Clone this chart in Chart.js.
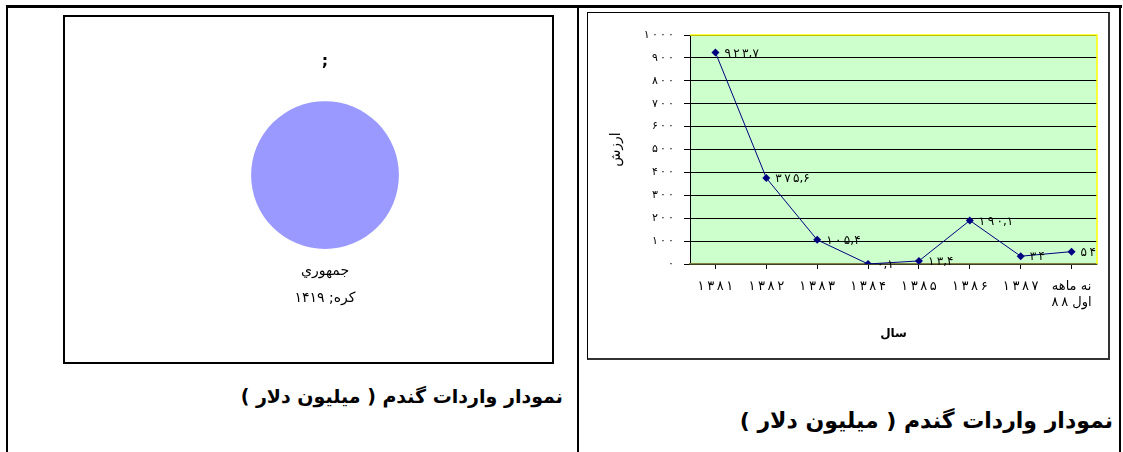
<!DOCTYPE html>
<html>
<head>
<meta charset="utf-8">
<script src="https://cdn.jsdelivr.net/npm/chart.js@4.4.0/dist/chart.umd.min.js"></script>
<style>
body { margin: 0; background: #fff; width: 1123px; height: 452px; overflow: hidden; position: relative; font-family: "DejaVu Sans", sans-serif; }
.ln { position: absolute; background: #000; }
.box { position: absolute; box-sizing: border-box; }
.cap { position: absolute; direction: rtl; font-weight: bold; white-space: nowrap; color: #000; }
canvas { position: absolute; }
</style>
</head>
<body>
<!-- table lines -->
<div class="ln" style="left:6px;top:5px;width:1116px;height:3px"></div>
<div class="ln" style="left:6px;top:5px;width:2px;height:447px"></div>
<div class="ln" style="left:577px;top:5px;width:2px;height:447px"></div>
<div class="ln" style="left:1119px;top:5px;width:2px;height:447px"></div>

<div class="box" style="left:63px;top:15px;width:491px;height:349px;border:2px solid #000"></div>
<canvas id="pie" style="left:65px;top:17px;width:487px;height:345px"></canvas>
<div class="cap" style="right:560px;top:385px;font-size:19px">نمودار واردات گندم ( میلیون دلار )</div>

<div class="box" style="left:587px;top:12px;width:523px;height:348px;border:1px solid #000;border-right:2px solid #333;border-bottom:2px solid #333"></div>
<canvas id="line" style="left:588px;top:13px;width:520px;height:345px"></canvas>
<div class="cap" style="right:10px;top:408px;font-size:22px">نمودار واردات گندم ( میلیون دلار )</div>

<script>
var years = ['۱۳۸۱', '۱۳۸۲', '۱۳۸۳', '۱۳۸۴', '۱۳۸۵', '۱۳۸۶', '۱۳۸۷', ['نه ماهه', 'اول ۸۸']];
var imports = [923.7, 375.6, 105.4, 0.1, 13.4, 190.1, 34, 54];
var pieLabels = ['جمهوري کره'];
var pieValues = [1419];

var faDigits = '۰۱۲۳۴۵۶۷۸۹';
function fa(v) {
    return String(v).replace(/[0-9]/g, function (d) { return faDigits[d]; }).replace('.', ',');
}
function spaced(s) {
    // wide digit look of the original
    return s.replace(/([۰-۹])(?=[۰-۹])/g, '$1\u2009');
}

var ctx = document.getElementById('line').getContext('2d');
var plotBg = {
    id: 'plotBg',
    beforeDraw: function (chart) {
        var a = chart.chartArea, c = chart.ctx;
        c.save();
        c.fillStyle = '#CCFFCC';
        c.fillRect(a.left, a.top, a.right - a.left, a.bottom - a.top);
        c.restore();
    },
    beforeDatasetsDraw: function (chart) {
        var a = chart.chartArea, c = chart.ctx;
        c.save();
        c.strokeStyle = '#FFFF00';
        c.lineWidth = 1.5;
        c.beginPath();
        c.moveTo(a.left, a.top);
        c.lineTo(a.right, a.top);
        c.lineTo(a.right, a.bottom);
        c.stroke();
        c.restore();
    }
};
var pointLabels = {
    id: 'pointLabels',
    afterDatasetsDraw: function (chart) {
        var c = chart.ctx;
        var meta = chart.getDatasetMeta(0);
        c.save();
        c.font = '12px "DejaVu Sans"';
        c.fillStyle = '#000';
        c.textAlign = 'left';
        c.textBaseline = 'middle';
        meta.data.forEach(function (pt, i) {
            c.fillText(spaced(fa(imports[i])), pt.x + 9, pt.y + 1);
        });
        c.restore();
    }
};

new Chart(ctx, {
    type: 'line',
    data: {
        labels: years,
        datasets: [{
            data: imports,
            borderColor: '#000080',
            borderWidth: 1,
            backgroundColor: '#000080',
            pointStyle: 'rectRot',
            pointRadius: 4,
            pointBorderWidth: 0,
            tension: 0,
        }],
    },
    options: {
        responsive: false,
        animation: false,
        events: [],
        layout: { padding: { top: 22, right: 11, left: 0, bottom: 0 } },
        plugins: {
            legend: { display: false },
            tooltip: { enabled: false },
        },
        scales: {
            y: {
                min: 0,
                max: 1000,
                afterFit: function (scale) { scale.width = 102; },
                ticks: {
                    stepSize: 100,
                    color: '#000',
                    padding: 10,
                    font: { family: 'DejaVu Sans', size: 11 },
                    callback: function (value) { return spaced(fa(value)); },
                },
                grid: { color: '#000', lineWidth: 1, tickLength: 6, drawTicks: true },
                border: { color: '#000', width: 1 },
                title: {
                    display: true,
                    text: 'ارزش',
                    color: '#000',
                    font: { family: 'DejaVu Sans', size: 14 },
                    padding: { top: 20 },
                },
            },
            x: {
                offset: true,
                afterFit: function (scale) { scale.height = 94; },
                ticks: {
                    color: '#000',
                    padding: 10,
                    maxRotation: 0,
                    autoSkip: false,
                    font: { family: 'DejaVu Sans', size: 13 },
                    callback: function (value, index) {
                        var l = years[index];
                        return Array.isArray(l) ? l.map(spaced) : spaced(l);
                    },
                },
                grid: { drawOnChartArea: false, color: '#000', tickLength: 5 },
                border: { color: '#808040', width: 1.5 },
                title: {
                    display: true,
                    text: 'سال',
                    color: '#000',
                    font: { family: 'DejaVu Sans', size: 12, weight: 'bold' },
                    padding: { top: 0, bottom: 17 },
                },
            },
        },
    },
    plugins: [plotBg, pointLabels],
});

var pieText = {
    id: 'pieText',
    afterDatasetsDraw: function (chart) {
        var c = chart.ctx;
        var arc = chart.getDatasetMeta(0).data[0];
        var words = pieLabels[0].split(' ');
        c.save();
        c.font = '14px "DejaVu Sans"';
        c.fillStyle = '#000';
        c.textAlign = 'center';
        c.textBaseline = 'middle';
        c.direction = 'rtl';
        c.fillText(words[0], arc.x, arc.y + arc.outerRadius + 22);
        c.fillText(words[1] + '; ' + fa(pieValues[0]), arc.x, arc.y + arc.outerRadius + 49);
        c.restore();
    }
};

new Chart(document.getElementById('pie').getContext('2d'), {
    type: 'pie',
    data: {
        labels: pieLabels,
        datasets: [{ data: pieValues, backgroundColor: '#9999FF', borderWidth: 0 }],
    },
    options: {
        responsive: false,
        animation: false,
        events: [],
        layout: { padding: { top: 0, left: 186, right: 153, bottom: 113 } },
        plugins: {
            legend: { display: false },
            tooltip: { enabled: false },
            title: {
                display: true,
                text: ';',
                color: '#000',
                font: { family: 'DejaVu Sans', size: 16, weight: 'bold' },
                padding: { top: 35, bottom: 30 },
            },
        },
    },
    plugins: [pieText],
});
</script>
</body>
</html>
